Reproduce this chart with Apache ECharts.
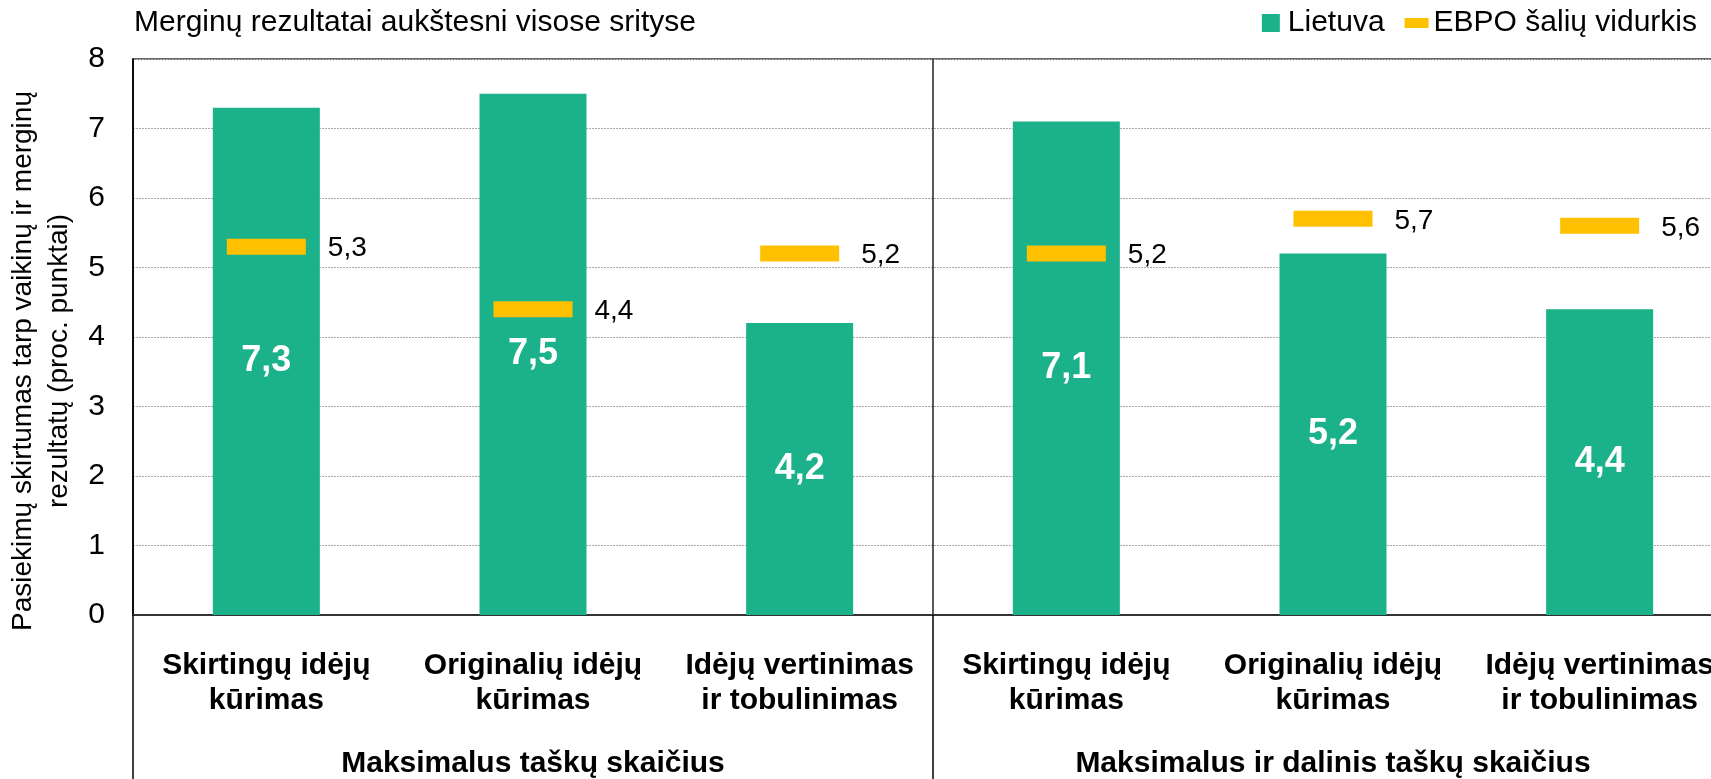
<!DOCTYPE html>
<html>
<head>
<meta charset="utf-8">
<script src="https://cdn.jsdelivr.net/npm/echarts@6/dist/echarts.min.js"></script>
<style>
  html, body { margin: 0; padding: 0; background: #fff; overflow: hidden; }
  #chart { width: 1711px; height: 779px; }
</style>
</head>
<body>
<div id="chart"></div>
<script>
// duomenys
var kategorijos = [
    'Skirtingų idėjų\nkūrimas', 'Originalių idėjų\nkūrimas', 'Idėjų vertinimas\nir tobulinimas',
    'Skirtingų idėjų\nkūrimas', 'Originalių idėjų\nkūrimas', 'Idėjų vertinimas\nir tobulinimas'
];
var grupes = ['Maksimalus taškų skaičius', 'Maksimalus ir dalinis taškų skaičius'];
var lietuva = [7.3, 7.5, 4.2, 7.1, 5.2, 4.4];
var ebpo = [5.3, 4.4, 5.2, 5.2, 5.7, 5.6];
var yTicks = [0, 8, 1]; // min, max, interval

var sriftas = "'Liberation Sans', Arial, sans-serif";
var zalia = '#1bb18a';
var geltona = '#ffc000';

function kablelis(v) {
    return Number(v).toFixed(1).replace('.', ',');
}

var myChart = echarts.init(document.getElementById('chart'));
var option = {
    animation: false,
    textStyle: { fontFamily: sriftas },
    title: {
        text: 'Merginų rezultatai aukštesni visose srityse',
        left: 134,
        top: 8,
        padding: 0,
        textStyle: { fontFamily: sriftas, fontSize: 30, fontWeight: 'normal', color: '#000' }
    },
    legend: {
        right: 14,
        top: 8,
        padding: 0,
        itemWidth: 24,
        itemHeight: 18,
        itemGap: 20,
        symbolKeepAspect: true,
        textStyle: { fontFamily: sriftas, fontSize: 30, color: '#000' },
        data: [
            { name: 'Lietuva', icon: 'path://M0,0h18v18h-18z' },
            { name: 'EBPO šalių vidurkis', icon: 'path://M0,0h24v10h-24z' }
        ]
    },
    grid: {
        left: 133,
        top: 59,
        width: 1600,
        bottom: 164,
        outerBoundsMode: 'none',
        containLabel: false,
        show: true,
        borderColor: '#333',
        borderWidth: 1.5,
        backgroundColor: 'transparent'
    },
    xAxis: [
        {
            type: 'category',
            data: kategorijos,
            axisLine: { show: true, lineStyle: { color: '#333', width: 2 } },
            axisTick: { show: false },
            axisLabel: {
                interval: 0,
                margin: 33,
                fontFamily: sriftas,
                fontSize: 30,
                fontWeight: 'bold',
                lineHeight: 35,
                color: '#000'
            }
        },
        {
            type: 'category',
            position: 'bottom',
            data: grupes,
            axisLine: { show: false },
            axisTick: { show: true, length: 170, lineStyle: { color: '#000', width: 1.5 } },
            splitLine: { show: true, lineStyle: { color: '#222', width: 1.5 } },
            axisLabel: {
                interval: 0,
                margin: 134,
                fontFamily: sriftas,
                fontSize: 30,
                fontWeight: 'bold',
                color: '#000'
            }
        }
    ],
    yAxis: {
        type: 'value',
        min: yTicks[0],
        max: yTicks[1],
        interval: yTicks[2],
        name: 'Pasiekimų skirtumas tarp vaikinų ir merginų\nrezultatų (proc. punktai)',
        nameLocation: 'middle',
        nameRotate: 90,
        nameGap: 55,
        nameTextStyle: {
            fontFamily: sriftas,
            fontSize: 28,
            lineHeight: 36,
            color: '#000',
            padding: [0, 48, 0, 0]
        },
        axisLine: { show: true, lineStyle: { color: '#000', width: 1.5 } },
        axisTick: { show: false },
        axisLabel: { margin: 28, fontFamily: sriftas, fontSize: 30, color: '#000' },
        splitLine: { show: true, lineStyle: { color: '#aaa', type: [2, 1], width: 1 } }
    },
    series: [
        {
            name: 'Lietuva',
            type: 'bar',
            data: lietuva,
            barWidth: 107,
            itemStyle: { color: zalia },
            label: {
                show: true,
                position: 'inside',
                fontFamily: sriftas,
                fontSize: 36,
                fontWeight: 'bold',
                color: '#fff',
                formatter: function (p) { return kablelis(p.value); }
            }
        },
        {
            name: 'EBPO šalių vidurkis',
            type: 'scatter',
            data: ebpo,
            symbol: 'rect',
            symbolSize: [79, 16],
            itemStyle: { color: geltona, opacity: 1 },
            z: 5,
            label: {
                show: true,
                position: 'right',
                distance: 22,
                offset: [0, 2],
                fontFamily: sriftas,
                fontSize: 28,
                color: '#000',
                formatter: function (p) { return kablelis(p.value); }
            }
        }
    ]
};

myChart.setOption(option);
</script>
</body>
</html>
